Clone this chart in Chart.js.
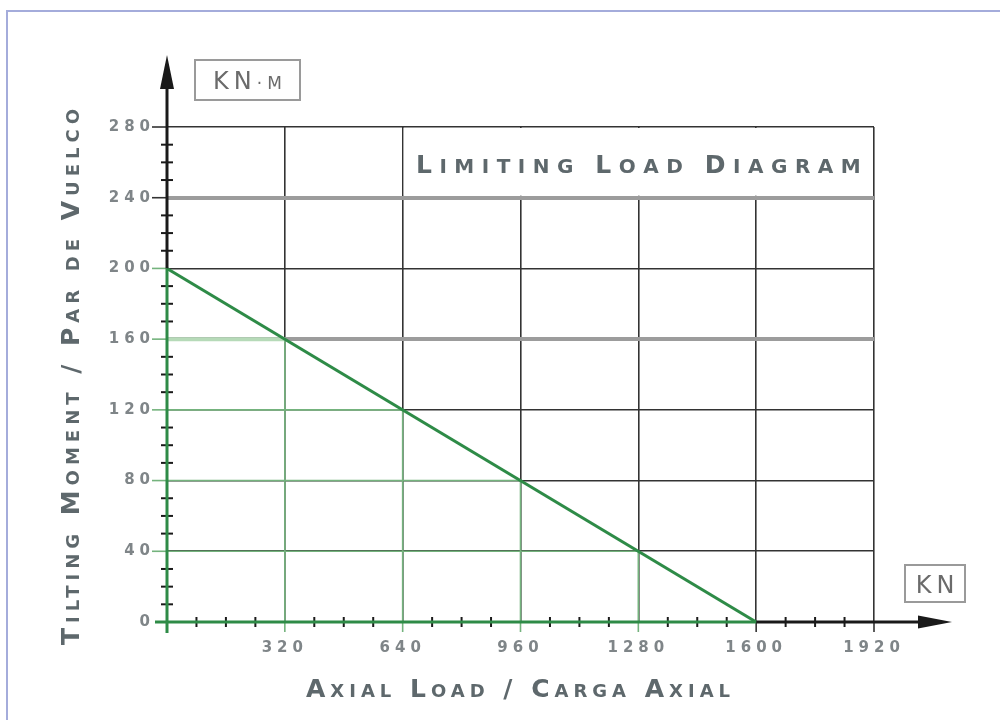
<!DOCTYPE html>
<html>
<head>
<meta charset="utf-8">
<title>Limiting Load Diagram</title>
<script src="https://cdn.jsdelivr.net/npm/chart.js@4.4.1/dist/chart.umd.min.js"></script>
<style>
  html, body { margin: 0; padding: 0; background: #fff; }
  #wrap { position: relative; width: 1000px; height: 720px; overflow: hidden; }
  #frame { position: absolute; left: 6px; top: 10px; width: 1100px; height: 800px;
           border-left: 2px solid #a4acdb; border-top: 2px solid #a4acdb; }
  #chart { position: absolute; left: 0; top: 0; }
</style>
</head>
<body>
<div id="wrap">
  <div id="frame"></div>
  <canvas id="chart" width="1000" height="720"></canvas>
</div>
<script>
// limit line: axial load (KN) vs tilting moment (KN·m)
const axialLoad = [0, 1600];
const tiltingMoment = [200, 0];

const xLabelTicks = [320, 640, 960, 1280, 1600, 1920];
const yLabelTicks = [0, 40, 80, 120, 160, 200, 240, 280];
const xMinorStep = 80;
const yMinorStep = 10;
const thickGridValues = [160, 240];

const FONT = "'DejaVu Sans', sans-serif";
const green = '#2e8b47';
const gridGreen = '#74b37d';
const gridGreenLight = '#b6dab8';
const dark = '#1a1a1a';
const gridDark = '#333333';
const gridGray = '#9c9c9c';
const textGray = '#5e686c';
const tickGray = '#7f8588';
const SPACING = '5px';

function momentAt(load) {
    for (let i = 0; i < axialLoad.length - 1; i++) {
        const a = axialLoad[i], b = axialLoad[i + 1];
        if (load >= a && load <= b) {
            return tiltingMoment[i] + (tiltingMoment[i + 1] - tiltingMoment[i]) * (load - a) / (b - a);
        }
    }
    return null;
}

function loadAt(moment) {
    for (let i = 0; i < tiltingMoment.length - 1; i++) {
        const a = tiltingMoment[i], b = tiltingMoment[i + 1];
        if (moment <= a && moment >= b) {
            return axialLoad[i] + (axialLoad[i + 1] - axialLoad[i]) * (a - moment) / (a - b);
        }
    }
    return null;
}

function seg(ctx, x1, y1, x2, y2) {
    ctx.beginPath();
    ctx.moveTo(x1, y1);
    ctx.lineTo(x2, y2);
    ctx.stroke();
}

// capitals big, the rest as smaller capitals
function smallCapsText(ctx, text, cx, baseline, big, small, spacing, weight) {
    const chars = text.split('').map(ch => ({
        ch: ch.toUpperCase(),
        size: (ch !== ch.toLowerCase() && ch === ch.toUpperCase()) ? big : small
    }));
    let total = 0;
    chars.forEach((c, i) => {
        ctx.font = weight + ' ' + c.size + 'px ' + FONT;
        c.w = ctx.measureText(c.ch).width;
        total += c.w + (i < chars.length - 1 ? spacing : 0);
    });
    let px = cx - total / 2;
    ctx.textAlign = 'left';
    ctx.textBaseline = 'alphabetic';
    chars.forEach(c => {
        ctx.font = weight + ' ' + c.size + 'px ' + FONT;
        ctx.fillText(c.ch, px, baseline);
        px += c.w + spacing;
    });
}

function unitBox(ctx, left, top, w, h, text) {
    ctx.save();
    ctx.strokeStyle = '#9a9a9a';
    ctx.lineWidth = 2;
    ctx.strokeRect(left, top, w, h);
    ctx.letterSpacing = '0px';
    ctx.fillStyle = '#6b6b6b';
    smallCapsText(ctx, text, left + w / 2, top + h / 2 + 9, 24, 17, 5, 'normal');
    ctx.restore();
}

const decor = {
    id: 'decor',
    beforeLayout(chart) { chart.ctx.letterSpacing = SPACING; },
    beforeDraw(chart) { chart.ctx.letterSpacing = SPACING; },
    beforeDatasetsDraw(chart) {
        const {ctx, scales: {x, y}} = chart;
        ctx.save();
        // grid parts under the limit line are green
        xLabelTicks.forEach(v => {
            const m = momentAt(v);
            if (m === null || m <= 0) return;
            ctx.strokeStyle = gridGreen;
            ctx.lineWidth = 1.6;
            seg(ctx, x.getPixelForValue(v), y.getPixelForValue(0), x.getPixelForValue(v), y.getPixelForValue(m));
        });
        yLabelTicks.forEach(v => {
            if (v <= 0) return;
            const l = loadAt(v);
            if (l === null || l <= 0) return;
            const thick = thickGridValues.includes(v);
            ctx.strokeStyle = thick ? gridGreenLight : gridGreen;
            ctx.lineWidth = thick ? 4 : 1.6;
            seg(ctx, x.getPixelForValue(0), y.getPixelForValue(v), x.getPixelForValue(l), y.getPixelForValue(v));
        });
        // title box in the top row
        const bx1 = x.getPixelForValue(640), bx2 = x.getPixelForValue(1920);
        const by1 = y.getPixelForValue(280), by2 = y.getPixelForValue(240);
        ctx.fillStyle = '#ffffff';
        ctx.fillRect(bx1 + 1, by1 + 1, bx2 - bx1 - 2, by2 - by1 - 3);
        ctx.letterSpacing = '0px';
        ctx.fillStyle = textGray;
        smallCapsText(ctx, 'Limiting Load Diagram', (bx1 + bx2) / 2, (by1 + by2) / 2 + 11, 25, 20, 7.5, 'bold');
        ctx.restore();
    },
    afterDraw(chart) {
        const {ctx, scales: {x, y}} = chart;
        const x0 = x.getPixelForValue(0), y0 = y.getPixelForValue(0);
        const xG = x.getPixelForValue(loadAt(0));
        const yG = y.getPixelForValue(momentAt(0));
        const tipX = chart.chartArea.right + 78;
        const tipY = chart.chartArea.top - 72;
        ctx.save();
        ctx.lineCap = 'butt';

        // minor ticks crossing the axes
        ctx.strokeStyle = dark;
        ctx.lineWidth = 2;
        for (let v = yMinorStep; v <= 280; v += yMinorStep) {
            if (yLabelTicks.includes(v)) continue;
            const py = y.getPixelForValue(v);
            seg(ctx, x0 - 6, py, x0 + 6, py);
        }
        for (let v = xMinorStep; v <= 1920; v += xMinorStep) {
            if (xLabelTicks.includes(v)) continue;
            const px = x.getPixelForValue(v);
            seg(ctx, px, y0 - 5, px, y0 + 5);
        }
        // major ticks
        yLabelTicks.forEach(v => {
            if (v <= 0) return;
            const py = y.getPixelForValue(v);
            ctx.strokeStyle = v <= momentAt(0) ? gridGreen : gridDark;
            ctx.lineWidth = 1.6;
            seg(ctx, x0 - 15, py, x0, py);
        });
        xLabelTicks.forEach(v => {
            const px = x.getPixelForValue(v);
            ctx.strokeStyle = v < loadAt(0) ? gridGreen : gridDark;
            ctx.lineWidth = 1.6;
            seg(ctx, px, y0, px, y0 + 10);
        });

        // axes: green up to the limit, black beyond, with arrows
        ctx.lineWidth = 3;
        ctx.strokeStyle = dark;
        seg(ctx, xG, y0, tipX - 30, y0);
        seg(ctx, x0, yG, x0, tipY + 30);
        ctx.strokeStyle = green;
        seg(ctx, x0 - 12, y0, xG, y0);
        seg(ctx, x0, y0 + 11, x0, yG);
        ctx.fillStyle = dark;
        ctx.beginPath();
        ctx.moveTo(tipX, y0);
        ctx.lineTo(tipX - 34, y0 - 6.5);
        ctx.lineTo(tipX - 34, y0 + 6.5);
        ctx.closePath();
        ctx.fill();
        ctx.beginPath();
        ctx.moveTo(x0, tipY);
        ctx.lineTo(x0 - 7, tipY + 34);
        ctx.lineTo(x0 + 7, tipY + 34);
        ctx.closePath();
        ctx.fill();
        ctx.restore();

        // unit labels
        unitBox(ctx, x0 + 28, tipY + 5, 105, 40, 'KN·m');
        unitBox(ctx, chart.chartArea.right + 31, y0 - 57, 60, 37, 'KN');
    }
};

document.addEventListener('DOMContentLoaded', function () {
    const ctx = document.getElementById('chart').getContext('2d');
    new Chart(ctx, {
        type: 'scatter',
        data: {
            datasets: [{
                label: 'Limiting load',
                data: axialLoad.map((v, i) => ({x: v, y: tiltingMoment[i]})),
                showLine: true,
                borderColor: green,
                borderWidth: 3,
                pointRadius: 0,
                fill: false
            }]
        },
        options: {
            responsive: false,
            animation: false,
            layout: {padding: {left: 20, top: 127, right: 126, bottom: 0}},
            plugins: {legend: {display: false}, tooltip: {enabled: false}},
            scales: {
                x: {
                    type: 'linear',
                    min: 0,
                    max: 1920,
                    border: {display: false},
                    grid: {
                        drawTicks: false,
                        lineWidth: 1.6,
                        color: c => (c.tick && c.tick.value > 0 && xLabelTicks.includes(c.tick.value)) ? gridDark : 'transparent'
                    },
                    ticks: {
                        stepSize: xMinorStep,
                        autoSkip: false,
                        maxRotation: 0,
                        minRotation: 0,
                        padding: 17,
                        color: tickGray,
                        font: {family: FONT, size: 15, weight: 'bold'},
                        callback: v => (v > 0 && xLabelTicks.includes(v)) ? String(v) : ''
                    },
                    title: {
                        display: true,
                        text: 'Axial Load / Carga Axial',
                        color: textGray,
                        font: {family: FONT, size: 25, weight: 'small-caps bold'},
                        padding: {top: 0, bottom: 15}
                    },
                    afterFit: s => { s.height = 98; }
                },
                y: {
                    type: 'linear',
                    min: 0,
                    max: 280,
                    border: {display: false},
                    grid: {
                        drawTicks: false,
                        lineWidth: c => (c.tick && thickGridValues.includes(c.tick.value)) ? 4 : 1.6,
                        color: c => {
                            if (!c.tick || c.tick.value <= 0 || !yLabelTicks.includes(c.tick.value)) return 'transparent';
                            return thickGridValues.includes(c.tick.value) ? gridGray : gridDark;
                        }
                    },
                    ticks: {
                        stepSize: yMinorStep,
                        autoSkip: false,
                        padding: 12,
                        color: tickGray,
                        font: {family: FONT, size: 15, weight: 'bold'},
                        callback: v => yLabelTicks.includes(v) ? String(v) : ''
                    },
                    title: {
                        display: true,
                        text: 'Tilting Moment / Par de Vuelco',
                        color: textGray,
                        font: {family: FONT, size: 25, weight: 'small-caps bold'},
                        padding: {top: 37, bottom: 0}
                    },
                    afterFit: s => { s.width = 147; }
                }
            }
        },
        plugins: [decor]
    });
});
</script>
</body>
</html>
